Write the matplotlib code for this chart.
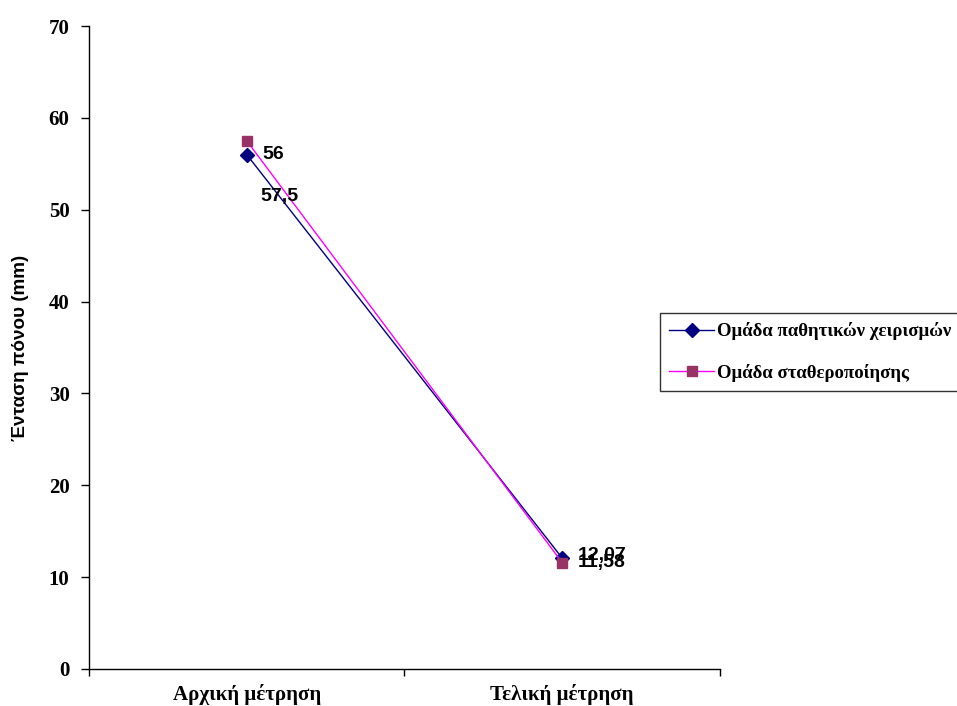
import matplotlib
matplotlib.use("Agg")
import matplotlib.pyplot as plt

categories = ["Αρχική μέτρηση", "Τελική μέτρηση"]
series_names = ["Ομάδα παθητικών χειρισμών", "Ομάδα σταθεροποίησης"]
passive_values = [56, 12.07]
stabil_values = [57.5, 11.58]
label_passive = ["56", "12,07"]
label_stabil = ["57,5", "11,58"]
yticks = [0, 10, 20, 30, 40, 50, 60, 70]

serif = ["Liberation Serif", "DejaVu Serif"]
sans = ["Liberation Sans", "DejaVu Sans"]

fig = plt.figure(figsize=(9.57, 7.06), dpi=100)
ax = fig.add_axes([89/957, 37/706, 631/957, 643/706])

x = list(range(len(categories)))
ax.plot(x, passive_values, color="#000080", lw=1, marker="D", markersize=7,
        markerfacecolor="#000080", markeredgecolor="#000080", label=series_names[0], zorder=3)
ax.plot(x, stabil_values, color="#FF00FF", lw=1, marker="s", markersize=6.5,
        markerfacecolor="#993366", markeredgecolor="#993366", label=series_names[1], zorder=3)

# data labels
lab_kw = dict(textcoords="offset points", ha="left", va="center", fontsize=14,
              fontweight="bold", family=sans)
ax.annotate(label_passive[0], (x[0], passive_values[0]), xytext=(11, 0), **lab_kw)
ax.annotate(label_stabil[0], (x[0], stabil_values[0]), xytext=(10, -40), **lab_kw)
ax.annotate(label_passive[1], (x[1], passive_values[1]), xytext=(11, 2), **lab_kw)
ax.annotate(label_stabil[1], (x[1], stabil_values[1]), xytext=(11, 0), **lab_kw)

ax.set_xlim(-0.5, 1.5)
ax.set_ylim(0, 70)
ax.set_yticks(yticks)
ax.set_yticklabels([str(v) for v in yticks], fontsize=15, fontweight="bold", family=serif)
ax.set_xticks(x)
ax.set_xticklabels(categories, fontsize=15, fontweight="bold", family=serif)
ax.tick_params(axis="x", which="major", length=0, pad=11)
ax.set_xticks([-0.5, 0.5, 1.5], minor=True)
ax.tick_params(axis="x", which="minor", length=5, direction="out", width=1)
ax.tick_params(axis="y", length=6, direction="out", width=1, pad=8)

for s in ["top", "right"]:
    ax.spines[s].set_visible(False)
for s in ["left", "bottom"]:
    ax.spines[s].set_linewidth(1)
    ax.spines[s].set_color("black")

ax.set_ylabel("Ένταση πόνου (mm)", fontsize=13.6, fontweight="bold", family=sans, labelpad=14)

leg = fig.legend(loc="upper left", bbox_to_anchor=(660/957, 1 - 313/706), frameon=True,
                 fancybox=False, edgecolor="black", prop={"family": serif, "weight": "bold", "size": 13.5},
                 handlelength=2.4, handletextpad=0.15, labelspacing=1.25, borderpad=0.5,
                 borderaxespad=0)
leg.get_frame().set_linewidth(1)

fig.savefig("out.png", dpi=100)
